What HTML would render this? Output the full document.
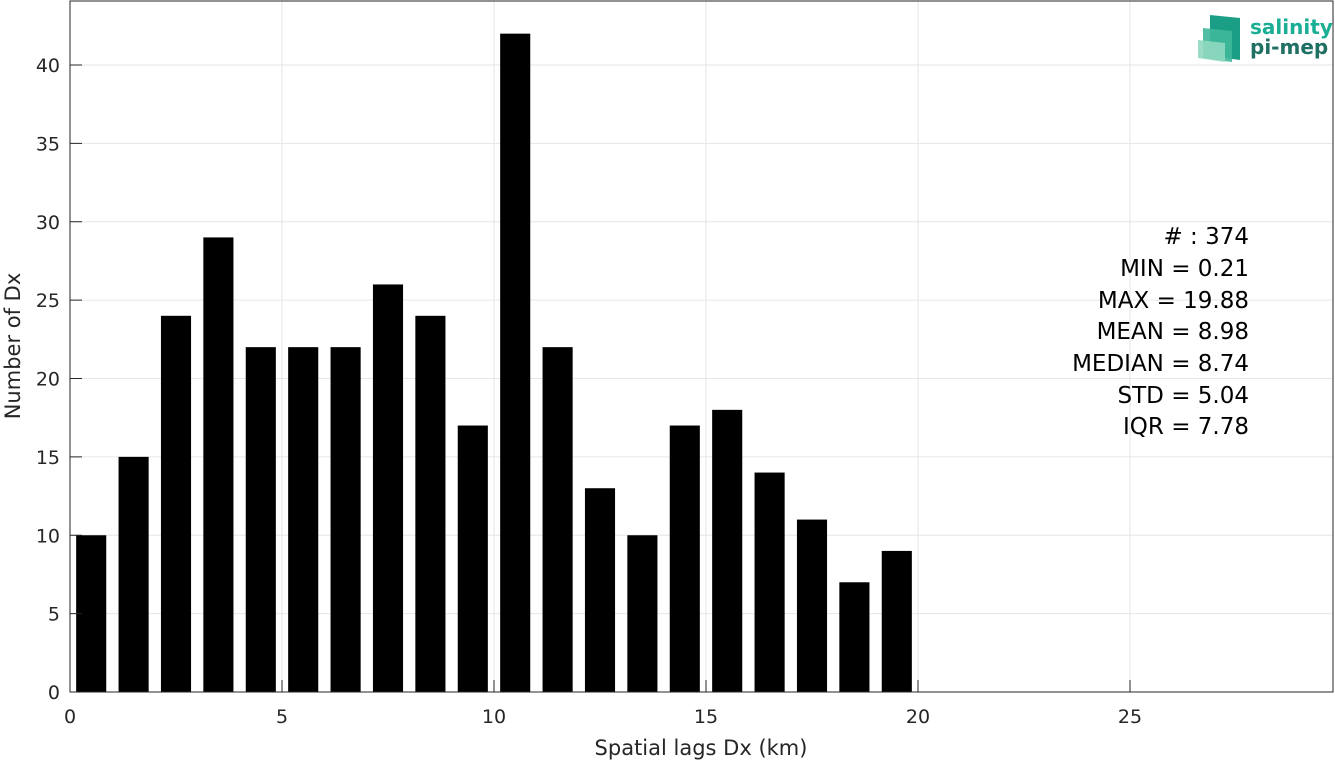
<!DOCTYPE html>
<html><head><meta charset="utf-8"><style>
body{margin:0;background:#fff;font-family:"DejaVu Sans","Liberation Sans",sans-serif;}
svg text{font-family:"DejaVu Sans","Liberation Sans",sans-serif;}
</style></head><body>
<svg id="chart" width="1335" height="763" xmlns="http://www.w3.org/2000/svg">
<rect x="0" y="0" width="1335" height="763" fill="#fff"/>
<g id="grid"></g>
<g id="bars"></g>
<g id="ticks"></g>
<rect x="70" y="1" width="1263" height="691" fill="none" stroke="#262626" stroke-width="1"/>
<text x="701" y="755" text-anchor="middle" font-size="21" fill="#262626">Spatial lags Dx (km)</text>
<text transform="translate(20,346) rotate(-90)" text-anchor="middle" font-size="21" fill="#262626">Number of Dx</text>
<g font-size="23" fill="#000" text-anchor="end">
<text x="1249" y="244"># : 374</text>
<text x="1249" y="276">MIN = 0.21</text>
<text x="1249" y="308">MAX =  19.88</text>
<text x="1249" y="339">MEAN = 8.98</text>
<text x="1249" y="371">MEDIAN = 8.74</text>
<text x="1249" y="403">STD = 5.04</text>
<text x="1249" y="434">IQR = 7.78</text>
</g>
<g>
<polygon points="1210,15 1240,18 1240,60 1210,56" fill="#1a9e86"/>
<polygon points="1203,28 1232,31 1232,62 1203,58" fill="#3fb89a" opacity="0.9"/>
<polygon points="1198,40 1225,43 1225,62 1198,58" fill="#8fd8c0" opacity="0.9"/>
<text x="1250" y="34" font-size="20" font-weight="bold" fill="#1aae94">salinity</text>
<text x="1250" y="54" font-size="20" font-weight="bold" fill="#1f6f63">pi-mep</text>
</g>
</svg>
<script>
const binCenters=[0.5,1.5,2.5,3.5,4.5,5.5,6.5,7.5,8.5,9.5,10.5,11.5,12.5,13.5,14.5,15.5,16.5,17.5,18.5,19.5];
const counts=[10,15,24,29,22,22,22,26,24,17,42,22,13,10,17,18,14,11,7,9];
const xTicks=[0,5,10,15,20,25];
const yTicks=[0,5,10,15,20,25,30,35,40];
const NS="http://www.w3.org/2000/svg";
const X0=70,XPU=42.4,Y0=692,YPU=15.675;
const sx=v=>X0+v*XPU, sy=v=>Y0-v*YPU;
const grid=document.getElementById('grid'),bars=document.getElementById('bars'),ticks=document.getElementById('ticks');
function mk(tag,attrs,parent){const e=document.createElementNS(NS,tag);for(const k in attrs)e.setAttribute(k,attrs[k]);parent.appendChild(e);return e;}
xTicks.forEach(t=>{
 const g=mk('line',{x1:sx(t),x2:sx(t),y1:1,y2:692,stroke:'#e6e6e6','stroke-width':1},grid);
 
 
 const tk=mk('line',{x1:sx(t),x2:sx(t),y1:692,y2:680,stroke:'#262626'},ticks);
 
 
 const l=mk('text',{x:sx(t),y:723,'text-anchor':'middle','font-size':19,fill:'#262626'},ticks);
 l.textContent=t;
 
 
});
yTicks.forEach(t=>{
 const g=mk('line',{x1:70,x2:1333,y1:sy(t),y2:sy(t),stroke:'#e6e6e6','stroke-width':1},grid);
 
 
 const tk=mk('line',{x1:70,x2:82,y1:sy(t),y2:sy(t),stroke:'#262626'},ticks);
 
 
 const l=mk('text',{x:60,y:sy(t)+7,'text-anchor':'end','font-size':19,fill:'#262626'},ticks);
 l.textContent=t;
 
 
});
const BW=0.71;
binCenters.forEach((c,i)=>{
 const r=mk('rect',{x:sx(c-BW/2),y:sy(counts[i]),width:BW*XPU,height:Y0-sy(counts[i]),fill:'#000'},bars);
 
 
});
</script>
</body></html>
